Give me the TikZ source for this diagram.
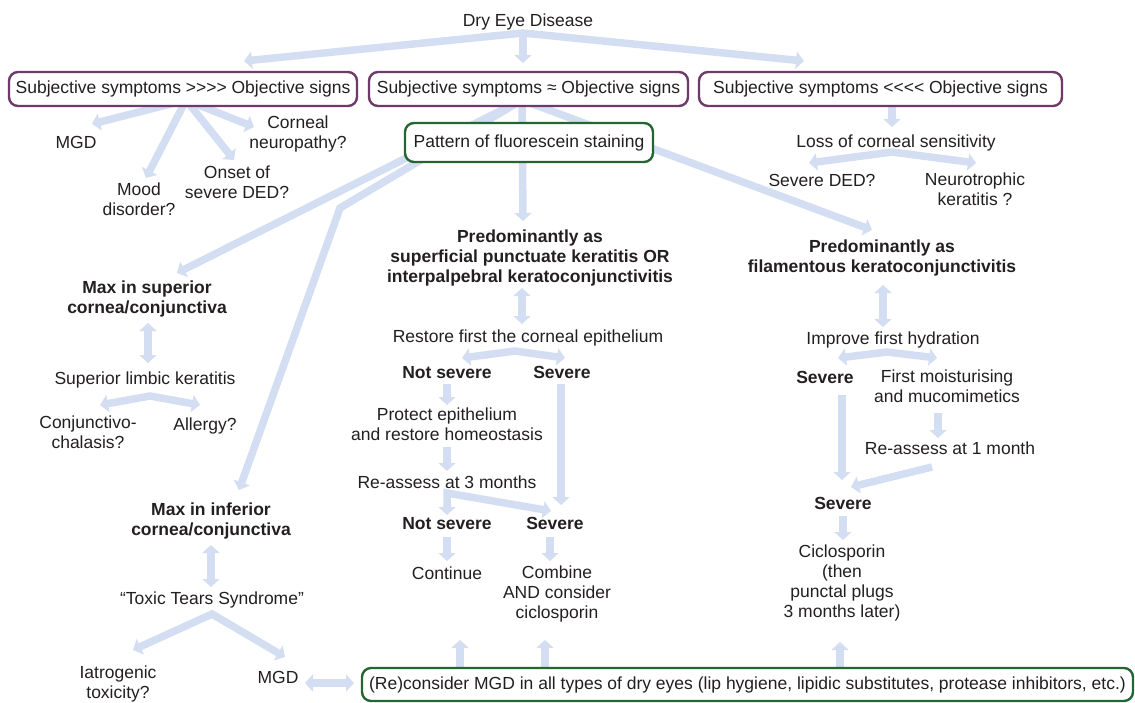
\documentclass[tikz,border=0pt]{standalone}
\usepackage{fontspec}
\setmainfont{Liberation Sans}
\usetikzlibrary{arrows.meta,calc}
\definecolor{ac}{RGB}{211,222,242}
\definecolor{tc}{RGB}{35,31,32}
\definecolor{purp}{RGB}{110,58,106}
\definecolor{grn}{RGB}{35,102,50}
\newcommand\dfs{\fontsize{17.5}{20}\selectfont}
\pgfdeclarelayer{bg}
\pgfsetlayers{bg,main}
\begin{document}
\begin{tikzpicture}[x=1pt,y=-1pt,
  tip/.tip={Triangle[width=17pt,length=8pt]},
  arr/.style={draw=ac, line width=7.5pt, -tip},
  darr/.style={draw=ac, line width=7.5pt, tip-tip},
  txt/.style={inner sep=0pt, align=center, text=tc, font=\dfs, execute at begin node=\strut, execute at end node=\strut},
  btxt/.style={txt, font=\dfs\bfseries},
  pbox/.style={draw=purp, line width=2.4pt, rounded corners=9pt, fill=white, minimum height=34pt, inner sep=0pt, text=tc, font=\dfs},
  gbox/.style={pbox, draw=grn}]
\useasboundingbox (0,0) rectangle (1135,702);

% ---------- nodes ----------
\node[txt] (dry) at (528,22) {Dry Eye Disease};
\node[pbox, minimum width=348] (boxA) at (183,89) {Subjective symptoms >{}>{}>{}> Objective signs};
\node[pbox, minimum width=319] (boxB) at (528.5,89) {Subjective symptoms ≈ Objective signs};
\node[pbox, minimum width=363] (boxC) at (880.5,89) {Subjective symptoms <{}<{}<{}< Objective signs\hspace{6pt}};
\node[gbox, minimum width=248, minimum height=39] (pattern) at (529,142.5) {Pattern of fluorescein staining};

\node[txt] (mgdA) at (76,144) {MGD};
\node[txt] (neuro) at (298,135.5) {Corneal\\neuropathy?};
\node[txt] (mood) at (139,202) {Mood\\disorder?};
\node[txt] (onset) at (237,185) {Onset of\\severe DED?};

\node[txt] (loss) at (896,143) {Loss of corneal sensitivity};
\node[txt] (sevded) at (822,182) {Severe DED?};
\node[txt] (neurotr) at (975,192) {Neurotrophic\\keratitis ?};

\node[btxt] (pred) at (530,259) {Predominantly as\\superficial punctuate keratitis OR\\interpalpebral keratoconjunctivitis};
\node[txt] (restore) at (528,338) {Restore first the corneal epithelium};
\node[btxt] (nsA) at (447,374) {Not severe};
\node[btxt] (sevA) at (562,374) {Severe};
\node[txt] (protect) at (447,427) {Protect epithelium\\and restore homeostasis};
\node[txt] (reass3) at (447,484) {Re-assess at 3 months};
\node[btxt] (nsB) at (447,525) {Not severe};
\node[btxt] (sevB) at (555,525) {Severe};
\node[txt] (cont) at (447,575) {Continue};
\node[txt] (combine) at (557,595) {Combine\\AND consider\\ciclosporin};

\node[btxt] (filam) at (882,259) {Predominantly as\\filamentous keratoconjunctivitis};
\node[txt] (improve) at (893,340) {Improve first hydration};
\node[btxt] (sevC) at (825,379) {Severe};
\node[txt] (moist) at (947,389) {First moisturising\\and mucomimetics};
\node[txt] (reass1) at (950,450) {Re-assess at 1 month};
\node[btxt] (sevD) at (843,505) {Severe};
\node[txt] (cyclo) at (842,584) {Ciclosporin\\(then\\punctal plugs\\3 months later)};

\node[btxt] (sup) at (147,300) {Max in superior\\cornea/conjunctiva};
\node[txt] (slk) at (145,380) {Superior limbic keratitis};
\node[txt] (conj) at (88,435.5) {Conjunctivo-\\chalasis?};
\node[txt] (allergy) at (205,426) {Allergy?};
\node[btxt] (inf) at (211,522) {Max in inferior\\cornea/conjunctiva};
\node[txt] (toxic) at (212,600) {“Toxic Tears Syndrome”};
\node[txt] (iatro) at (118,685) {Iatrogenic\\toxicity?};
\node[txt] (mgdB) at (278,679) {MGD};

\node[gbox, minimum width=771, minimum height=33] (bottom) at (747.5,684.5)
  {(Re)consider MGD in all types of dry eyes (lip hygiene, lipidic substitutes, protease inhibitors, etc.)};

% ---------- connector points ----------
\coordinate (d0) at (523,33);
\coordinate (dL) at (244,61);
\coordinate (dM) at (523,63);
\coordinate (dR) at (804,61);

\coordinate (a0) at (186,100);
\coordinate (aMgd) at (92,124);
\coordinate (aMood) at (146,178);
\coordinate (aOnset) at (234,160);
\coordinate (aNeuro) at (254,127);

\coordinate (b0) at (522,100);
\coordinate (bSup) at (177,273);
\coordinate (bBend) at (340,208);
\coordinate (bInf) at (239,490);
\coordinate (bFil) at (872,230);
\coordinate (bPred) at (523,221);

\coordinate (c0) at (892,100);
\coordinate (cT) at (892,127);
\coordinate (lA) at (892,152);
\coordinate (lL) at (809,163);
\coordinate (lR) at (976,163);

\coordinate (p1) at (522,288);
\coordinate (p2) at (522,324);
\coordinate (rA) at (515,351);
\coordinate (rL) at (462,358);
\coordinate (rR) at (565,358);
\coordinate (n1a) at (447,384);
\coordinate (n1b) at (447,405);
\coordinate (pr1) at (447,447);
\coordinate (pr2) at (447,471);
\coordinate (s1a) at (561,384);
\coordinate (s1b) at (561,505);
\coordinate (r3A) at (447,493);
\coordinate (r3D) at (447,515);
\coordinate (r3R) at (551,511);
\coordinate (n2a) at (447,537);
\coordinate (n2b) at (447,561);
\coordinate (s2a) at (550,537);
\coordinate (s2b) at (550,561);
\coordinate (u1a) at (460,667);
\coordinate (u1b) at (460,640);
\coordinate (u2a) at (545,667);
\coordinate (u2b) at (545,640);

\coordinate (f1) at (883,285);
\coordinate (f2) at (883,327);
\coordinate (iA) at (887,352);
\coordinate (iL) at (838,358);
\coordinate (iR) at (937,358);
\coordinate (m1) at (938,413);
\coordinate (m2) at (938,438);
\coordinate (s3a) at (842,395);
\coordinate (s3b) at (842,480);
\coordinate (q1) at (932,467);
\coordinate (q2) at (851,487);
\coordinate (s4a) at (843,516);
\coordinate (s4b) at (843,540);
\coordinate (u3a) at (840,667);
\coordinate (u3b) at (840,642);

\coordinate (h1) at (148,323);
\coordinate (h2) at (148,363);
\coordinate (kA) at (150,396);
\coordinate (kL) at (100,405);
\coordinate (kR) at (200,405);
\coordinate (g1) at (211,545);
\coordinate (g2) at (211,587);
\coordinate (tA) at (212,614);
\coordinate (tL) at (133,650);
\coordinate (tR) at (285,657);
\coordinate (e1) at (305,683);
\coordinate (e2) at (354,683);

% ---------- connectors ----------
\begin{pgfonlayer}{bg}
\draw[darr] (dL) -- (d0) -- (dR);
\draw[arr] (d0) -- (dM);

\draw[arr] (a0) -- (aMgd);
\draw[arr] (a0) -- (aMood);
\draw[arr] (a0) -- (aOnset);
\draw[arr] (a0) -- (aNeuro);

\draw[arr] (b0) -- (bSup);
\draw[arr] (b0) -- (bBend) -- (bInf);
\draw[arr] (b0) -- (bFil);
\draw[arr] (b0) -- (bPred);

\draw[arr] (c0) -- (cT);
\draw[darr] (lL) -- (lA) -- (lR);

\draw[darr] (p1) -- (p2);
\draw[darr] (rL) -- (rA) -- (rR);
\draw[arr] (n1a) -- (n1b);
\draw[arr] (pr1) -- (pr2);
\draw[arr] (s1a) -- (s1b);
\draw[darr] (r3D) -- (r3A) -- (r3R);
\draw[arr] (n2a) -- (n2b);
\draw[arr] (s2a) -- (s2b);
\draw[arr] (u1a) -- (u1b);
\draw[arr] (u2a) -- (u2b);

\draw[darr] (f1) -- (f2);
\draw[darr] (iL) -- (iA) -- (iR);
\draw[arr] (m1) -- (m2);
\draw[arr] (s3a) -- (s3b);
\draw[arr] (q1) -- (q2);
\draw[arr] (s4a) -- (s4b);
\draw[arr] (u3a) -- (u3b);

\draw[darr] (h1) -- (h2);
\draw[darr] (kL) -- (kA) -- (kR);
\draw[darr] (g1) -- (g2);
\draw[darr] (tL) -- (tA) -- (tR);
\draw[darr] (e1) -- (e2);
\end{pgfonlayer}
\end{tikzpicture}
\end{document}
